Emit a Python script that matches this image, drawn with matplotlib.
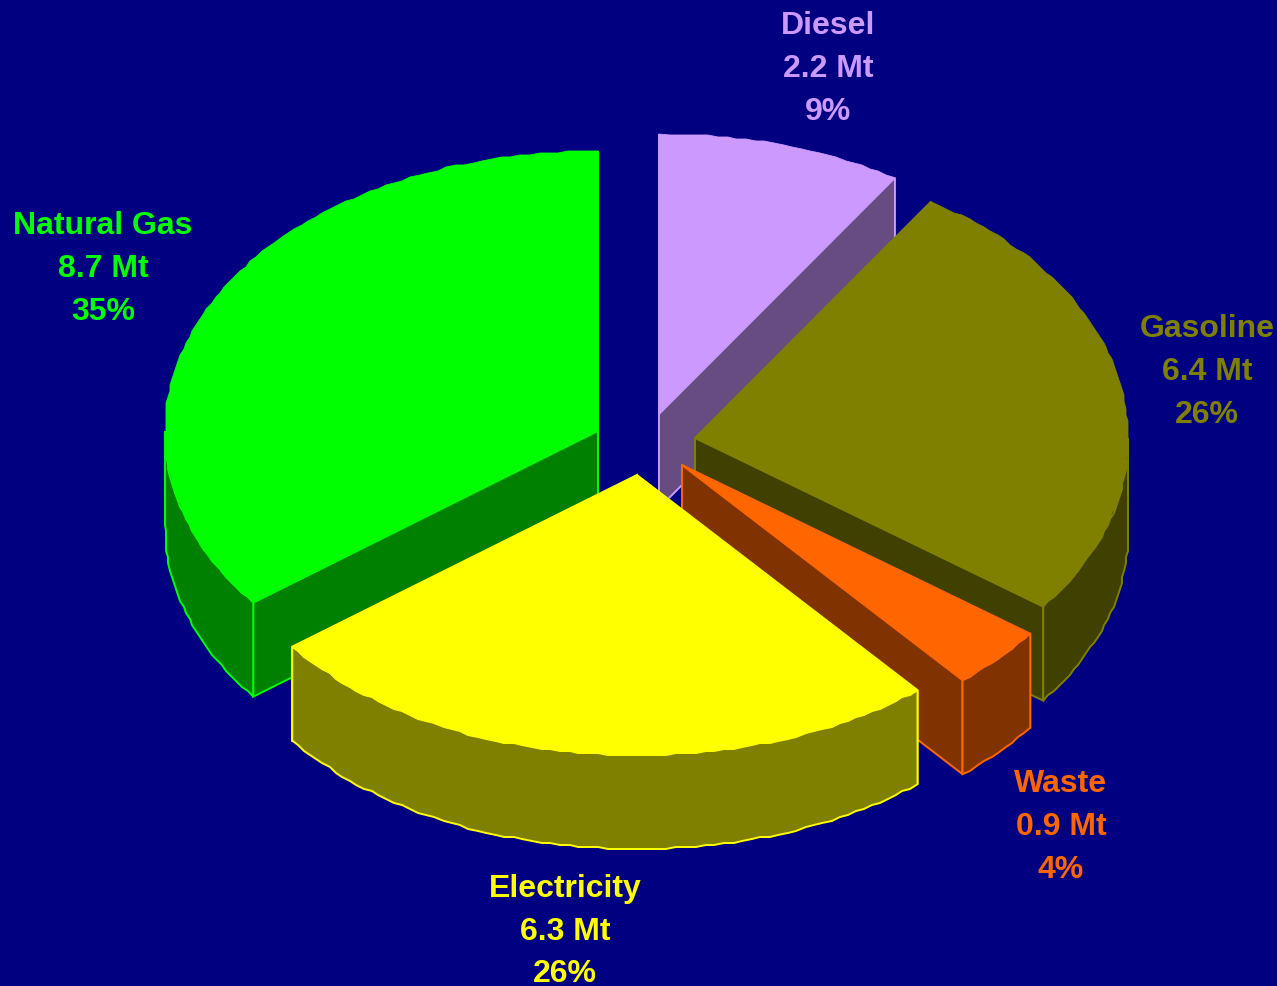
import numpy as np
import matplotlib
matplotlib.use('Agg')
import matplotlib.pyplot as plt
from matplotlib.patches import Polygon

# --- data ---
fuels = ["Diesel", "Gasoline", "Waste", "Electricity", "Natural Gas"]
mt = [2.2, 6.4, 0.9, 6.3, 8.7]
pct = [9, 26, 4, 26, 35]

# --- colours ---
top_col = ["#CC99FF", "#808000", "#FF6600", "#FFFF00", "#00FF00"]
side_col = ["#664C80", "#404000", "#803300", "#808000", "#008000"]
line_col = ["#CC99FF", "#808000", "#FF6600", "#FFFF00", "#00FF00"]
text_col = ["#CC99FF", "#808000", "#FF6600", "#FFFF00", "#00FF00"]
BG = "#000080"

# --- layout, in pixels of the picture ---
apex = [(659, 415), (695, 439), (682, 466), (637, 476), (598, 432)]
label_xy = [(828, 22.5), (1207, 325.5), (1061, 780.5), (565, 885), (103, 222.5)]
RX, RY = 433, 280
DEPTH = 94
LINE_H = 43
SHAPE = 0.985            # the rim is a little fuller than a true ellipse
EDGE_SHIFT = np.radians(0.35)
draw_order = [0, 1, 4, 2, 3]

fig = plt.figure(figsize=(12.77, 9.87), dpi=100, facecolor=BG)
ax = fig.add_axes([0, 0, 1, 1])
ax.set_xlim(0, 1277)
ax.set_ylim(987, 0)
ax.axis('off')

# slice limits, clockwise from 12 o'clock
edges = np.concatenate([[0], np.cumsum(mt)]) / sum(mt) * 2 * np.pi
edges[1:-1] += EDGE_SHIFT


def rim(cx, cy, a0, a1, step=np.radians(1.25), grid=2.0):
    # snapped to a grid, the original rim is a bit stepped
    n = max(int((a1 - a0) / step), 1)
    a = np.linspace(a0, a1, n + 1)
    s, c = np.sin(a), np.cos(a)
    x = cx + RX * np.sign(s) * np.abs(s) ** SHAPE
    y = cy - RY * np.sign(c) * np.abs(c) ** SHAPE
    x[1:-1] = np.round(x[1:-1] / grid) * grid
    y[1:-1] = np.round(y[1:-1] / grid) * grid
    return np.column_stack([x, y])


for i in draw_order:
    cx, cy = apex[i]
    a0, a1 = edges[i], edges[i + 1]
    arc = rim(cx, cy, a0, a1)
    down = np.array([0, DEPTH])
    c = np.array([cx, cy], dtype=float)
    kw = dict(closed=True, facecolor=side_col[i], edgecolor=line_col[i],
              linewidth=1.4, joinstyle='miter')

    # cut faces
    for p in (arc[0], arc[-1]):
        ax.add_patch(Polygon([c, p, p + down, c + down], **kw))

    # outer wall, only the part that faces the viewer
    lo, hi = max(a0, np.pi / 2), min(a1, 3 * np.pi / 2)
    if hi > lo:
        wall = rim(cx, cy, lo, hi)
        ax.add_patch(Polygon(np.vstack([wall, wall[::-1] + down]), **kw))

    # top
    ax.add_patch(Polygon(np.vstack([c, arc]), closed=True, facecolor=top_col[i],
                         edgecolor=top_col[i], linewidth=0.6))

# --- labels ---
for i, name in enumerate(fuels):
    x, y = label_xy[i]
    lines = [name, f"{mt[i]} Mt", f"{pct[i]}%"]
    for k, s in enumerate(lines):
        ax.text(x, y + k * LINE_H, s, color=text_col[i], fontsize=23,
                fontweight='bold', family='Liberation Sans',
                ha='center', va='center_baseline')

fig.savefig('out.png', dpi=100, facecolor=BG)
